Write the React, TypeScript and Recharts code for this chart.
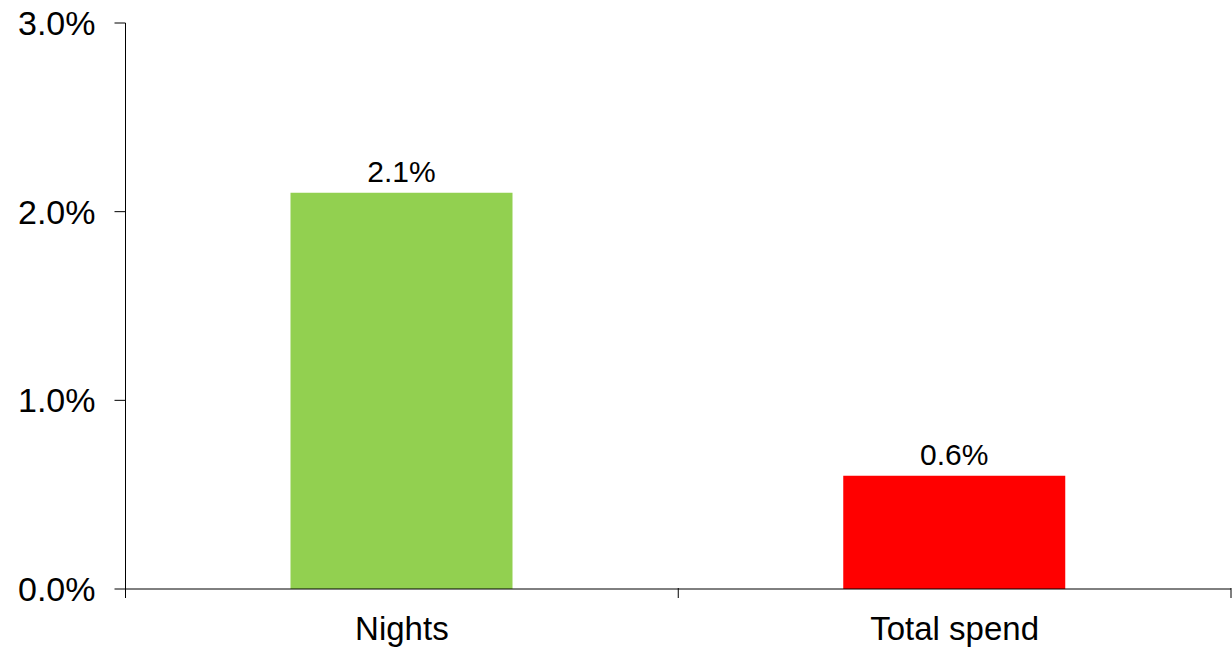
import React from "react";
import { BarChart, Bar, XAxis, YAxis, LabelList, Cell } from "recharts";

const categories = ["Nights", "Total spend"];
const values = [2.1, 0.6];
const barColors = ["#92D050", "#FF0000"];
const yTicks = [0, 1, 2, 3];

const data = categories.map((name, i) => ({ name, value: values[i] }));

const FONT = "'Liberation Sans', Arial, sans-serif";

const CategoryTick = (props: any) => {
  const { x, y, payload, index } = props;
  const half = payload.offset ?? 0;
  const axisY = y - 29;
  return (
    <g>
      <line x1={x - half} x2={x - half} y1={axisY} y2={axisY + 10} stroke="#000" strokeWidth={1} />
      {index === categories.length - 1 && (
        <line x1={x + half} x2={x + half} y1={axisY} y2={axisY + 10} stroke="#000" strokeWidth={1} />
      )}
      <text x={x} y={y} dy="0.71em" textAnchor="middle" fontSize={33} fontFamily={FONT} fill="#000">
        {payload.value}
      </text>
    </g>
  );
};

export default function App() {
  return (
    <div style={{ position: "absolute", left: 0, top: 0, width: 1232, height: 650, background: "#fff" }}>
      <BarChart width={1232} height={650} data={data} margin={{ top: 23, right: 1, bottom: 11, left: 0 }}>
        <XAxis
          dataKey="name"
          axisLine={{ stroke: "#000" }}
          tickLine={false}
          tickMargin={0}
          tickSize={28}
          height={50}
          interval={0}
          tick={<CategoryTick />}
        />
        <YAxis
          width={125.5}
          domain={[0, 3]}
          ticks={yTicks}
          tickFormatter={(v: number) => v.toFixed(1) + "%"}
          axisLine={{ stroke: "#000" }}
          tickLine={{ stroke: "#000" }}
          tickSize={11}
          tickMargin={19}
          tick={{ fontSize: 34, fontFamily: FONT, fill: "#000" }}
        />
        <Bar dataKey="value" barSize={222} isAnimationActive={false}>
          {data.map((d, i) => (
            <Cell key={d.name} fill={barColors[i]} />
          ))}
          <LabelList
            dataKey="value"
            position="top"
            offset={11}
            formatter={(v: any) => Number(v).toFixed(1) + "%"}
            style={{ fontSize: 30, fontFamily: FONT, fill: "#000" }}
          />
        </Bar>
      </BarChart>
    </div>
  );
}
